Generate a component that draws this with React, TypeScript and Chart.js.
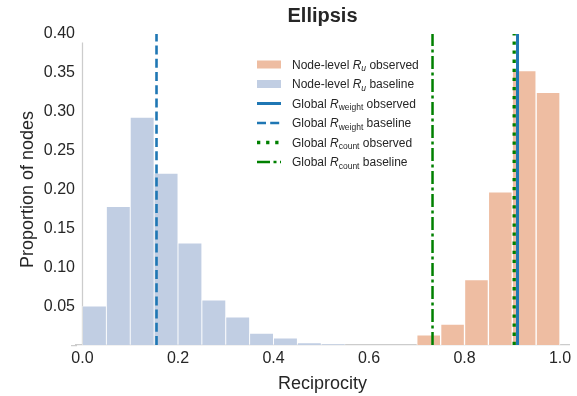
import React, { useEffect, useRef } from 'react';
import { Chart, registerables } from 'chart.js';

Chart.register(...registerables);

const FONT = '"Liberation Sans", Arial, Helvetica, sans-serif';
const TEXT_COLOR = '#262626';

const TITLE = 'Ellipsis';
const X_LABEL = 'Reciprocity';
const Y_LABEL = 'Proportion of nodes';

// Histogram bins (left edges) and heights
const baselineBinEdges = [0.0, 0.05, 0.1, 0.15, 0.2, 0.25, 0.3, 0.35, 0.4, 0.45, 0.5];
const baselineValues = [0.05, 0.178, 0.293, 0.221, 0.131, 0.058, 0.036, 0.015, 0.009, 0.003, 0.0013];
const observedBinEdges = [0.7, 0.75, 0.8, 0.85, 0.9, 0.95];
const observedValues = [0.013, 0.027, 0.084, 0.197, 0.353, 0.325];
const BIN_WIDTH = 0.05;

// Global reciprocity values (vertical lines)
const globalWeightObserved = 0.911;
const globalWeightBaseline = 0.155;
const globalCountObserved = 0.904;
const globalCountBaseline = 0.733;

const xTicks = [0.0, 0.2, 0.4, 0.6, 0.8, 1.0];
const xTickLabels = ['0.0', '0.2', '0.4', '0.6', '0.8', '1.0'];
const yTicks = [0.05, 0.1, 0.15, 0.2, 0.25, 0.3, 0.35, 0.4];
const yTickLabels = ['0.05', '0.10', '0.15', '0.20', '0.25', '0.30', '0.35', '0.40'];

const X_MIN = -0.0136;
const X_MAX = 1.0188;
const X_SPINE_START = -0.0241;
const Y_MIN = 0;
const Y_MAX = 0.4;
const Y_SPINE_TOP = 0.389;

const ORANGE = '#eebda2';
const BLUE_FILL = '#c1cee3';
const BLUE = '#1f77b4';
const GREEN = '#008000';
const SPINE = '#cccccc';

const DASHED = [9, 4.2];
const DOTTED = [3.3, 5.8];
const DASHDOT = [13, 3.5, 3, 3.5];

type Part = { t: string; i?: boolean; sub?: boolean };
type LegendItem = { kind: 'patch' | 'line'; color: string; width?: number; dash?: number[]; parts: Part[] };

const legendItems: LegendItem[] = [
  { kind: 'patch', color: ORANGE, parts: [{ t: 'Node-level ' }, { t: 'R', i: true }, { t: 'u', i: true, sub: true }, { t: ' observed' }] },
  { kind: 'patch', color: BLUE_FILL, parts: [{ t: 'Node-level ' }, { t: 'R', i: true }, { t: 'u', i: true, sub: true }, { t: ' baseline' }] },
  { kind: 'line', color: BLUE, width: 3, dash: [], parts: [{ t: 'Global ' }, { t: 'R', i: true }, { t: 'weight', sub: true }, { t: ' observed' }] },
  { kind: 'line', color: BLUE, width: 2.6, dash: DASHED, parts: [{ t: 'Global ' }, { t: 'R', i: true }, { t: 'weight', sub: true }, { t: ' baseline' }] },
  { kind: 'line', color: GREEN, width: 3.3, dash: DOTTED, parts: [{ t: 'Global ' }, { t: 'R', i: true }, { t: 'count', sub: true }, { t: ' observed' }] },
  { kind: 'line', color: GREEN, width: 2.5, dash: DASHDOT, parts: [{ t: 'Global ' }, { t: 'R', i: true }, { t: 'count', sub: true }, { t: ' baseline' }] },
];

const spinePlugin = {
  id: 'spines',
  beforeDatasetsDraw(chart: any) {
    const { ctx, scales, chartArea } = chart;
    const x = scales.x.getPixelForValue(0);
    const pxPerUnit = scales.x.getPixelForValue(1) - x;
    const bottom = chartArea.bottom;
    ctx.save();
    ctx.strokeStyle = SPINE;
    ctx.lineWidth = 1.25;
    ctx.beginPath();
    ctx.moveTo(x, scales.y.getPixelForValue(0));
    ctx.lineTo(x, scales.y.getPixelForValue(Y_SPINE_TOP));
    ctx.stroke();
    // extend bottom spine to the left of the plotting area
    ctx.beginPath();
    ctx.moveTo(x + X_SPINE_START * pxPerUnit, bottom + 0.625);
    ctx.lineTo(chartArea.left + 1, bottom + 0.625);
    ctx.stroke();
    ctx.restore();
  },
};

const legendPlugin = {
  id: 'richLegend',
  afterDraw(chart: any) {
    const { ctx, chartArea } = chart;
    const x0 = chartArea.left + 181;
    const y0 = chartArea.top + 30.5;
    const dy = 19.5;
    const handle = 24;
    const textX = x0 + 35;
    ctx.save();
    legendItems.forEach((it, idx) => {
      const cy = y0 + idx * dy;
      if (it.kind === 'patch') {
        ctx.fillStyle = it.color;
        ctx.fillRect(x0, cy - 4, handle, 8);
      } else {
        ctx.strokeStyle = it.color;
        ctx.lineWidth = it.width || 2;
        ctx.lineCap = 'butt';
        ctx.setLineDash(it.dash || []);
        ctx.beginPath();
        ctx.moveTo(x0, cy);
        ctx.lineTo(x0 + handle, cy);
        ctx.stroke();
        ctx.setLineDash([]);
      }
      let x = textX;
      const base = cy + 4.3;
      ctx.fillStyle = TEXT_COLOR;
      ctx.textBaseline = 'alphabetic';
      ctx.textAlign = 'left';
      for (const p of it.parts) {
        const size = p.sub ? 8.5 : 12;
        ctx.font = `${p.i ? 'italic ' : ''}${size}px ${FONT}`;
        ctx.fillText(p.t, x, base + (p.sub ? 2.6 : 0));
        x += ctx.measureText(p.t).width;
      }
    });
    ctx.restore();
  },
};

function vline(label: string, value: number, color: string, width: number, dash: number[]) {
  return {
    type: 'line' as const,
    label,
    data: [
      { x: value, y: Y_MIN },
      { x: value, y: Y_MAX },
    ],
    borderColor: color,
    borderWidth: width,
    borderDash: dash,
    borderCapStyle: 'butt' as const,
    pointRadius: 0,
    fill: false,
    order: 0,
  };
}

export default function App() {
  const canvasRef = useRef<HTMLCanvasElement | null>(null);

  useEffect(() => {
    if (!canvasRef.current) return;
    Chart.defaults.font.family = FONT;
    const chart = new Chart(canvasRef.current, {
      type: 'bar',
      data: {
        datasets: [
          {
            type: 'bar' as const,
            label: 'Node-level Ru observed',
            data: observedBinEdges.map((e, i) => ({ x: e + BIN_WIDTH / 2, y: observedValues[i] })),
            backgroundColor: ORANGE,
            borderColor: 'rgba(255,255,255,0.9)',
            borderWidth: 1,
            borderSkipped: 'start',
            grouped: false,
            barPercentage: 1,
            categoryPercentage: 1,
            order: 1,
          } as any,
          {
            type: 'bar' as const,
            label: 'Node-level Ru baseline',
            data: baselineBinEdges.map((e, i) => ({ x: e + BIN_WIDTH / 2, y: baselineValues[i] })),
            backgroundColor: BLUE_FILL,
            borderColor: 'rgba(255,255,255,0.6)',
            borderWidth: 0.8,
            borderSkipped: 'start',
            grouped: false,
            barPercentage: 1,
            categoryPercentage: 1,
            order: 1,
          } as any,
          vline('Global Rweight observed', globalWeightObserved, BLUE, 3, []),
          vline('Global Rweight baseline', globalWeightBaseline, BLUE, 2.6, DASHED),
          vline('Global Rcount observed', globalCountObserved, GREEN, 3.3, DOTTED),
          vline('Global Rcount baseline', globalCountBaseline, GREEN, 2.5, DASHDOT),
        ],
      },
      options: {
        responsive: false,
        animation: false,
        layout: { padding: { left: 0, right: 8, top: 0, bottom: 0 } },
        plugins: {
          legend: { display: false },
          tooltip: { enabled: false },
          title: {
            display: true,
            text: TITLE,
            fullSize: false,
            color: TEXT_COLOR,
            font: { size: 20, weight: 'bold', family: FONT },
            padding: { top: 4, bottom: 6 },
          },
        },
        scales: {
          x: {
            type: 'linear',
            min: X_MIN,
            max: X_MAX,
            offset: false,
            grid: { display: false, offset: false, drawTicks: false },
            border: { display: true, color: SPINE, width: 1.25 },
            afterBuildTicks: (scale: any) => {
              scale.ticks = xTicks.map((v) => ({ value: v }));
            },
            afterFit: (scale: any) => {
              scale.height = 51;
            },
            ticks: {
              color: TEXT_COLOR,
              font: { size: 16, family: FONT },
              padding: 4,
              maxRotation: 0,
              autoSkip: false,
              callback: (_v: any, i: number) => xTickLabels[i],
            },
            title: {
              display: true,
              text: X_LABEL,
              color: TEXT_COLOR,
              font: { size: 18, family: FONT },
              padding: { top: 0, bottom: 1 },
            },
          },
          y: {
            type: 'linear',
            min: Y_MIN,
            max: Y_MAX,
            grid: { display: false, drawTicks: false },
            border: { display: false },
            afterBuildTicks: (scale: any) => {
              scale.ticks = yTicks.map((v) => ({ value: v }));
            },
            afterFit: (scale: any) => {
              scale.width = 76;
            },
            ticks: {
              color: TEXT_COLOR,
              font: { size: 16, family: FONT },
              padding: 1,
              autoSkip: false,
              callback: (_v: any, i: number) => yTickLabels[i],
            },
            title: {
              display: true,
              text: Y_LABEL,
              color: TEXT_COLOR,
              font: { size: 18, family: FONT },
              padding: { top: 17, bottom: 0 },
            },
          },
        },
      } as any,
      plugins: [spinePlugin, legendPlugin],
    });
    return () => chart.destroy();
  }, []);

  return (
    <div style={{ position: 'absolute', left: 0, top: 0, width: 577, height: 396, background: '#fff' }}>
      <canvas ref={canvasRef} width={577} height={396} style={{ display: 'block' }} />
    </div>
  );
}
